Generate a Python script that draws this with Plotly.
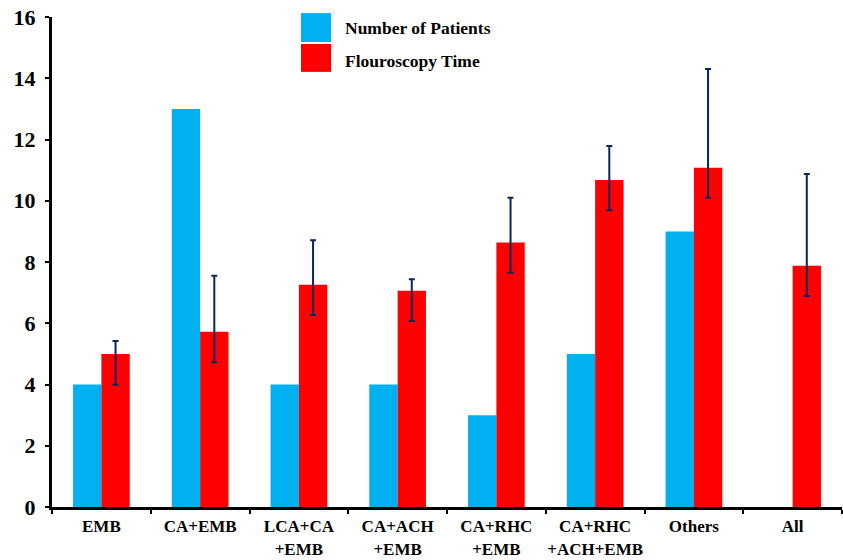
import plotly.graph_objects as go

categories = ["EMB", "CA+EMB", "LCA+CA<br>+EMB", "CA+ACH<br>+EMB", "CA+RHC<br>+EMB",
              "CA+RHC<br>+ACH+EMB", "Others", "All"]
patients = [4, 13, 4, 4, 3, 5, 9, None]
fluoro = [5.0, 5.72, 7.26, 7.06, 8.64, 10.68, 11.08, 7.88]
err_plus = [0.42, 1.83, 1.45, 0.38, 1.46, 1.11, 3.22, 2.99]
err_minus = [1.01, 0.99, 0.99, 0.99, 0.99, 0.99, 0.98, 0.99]
y_ticks = [0, 2, 4, 6, 8, 10, 12, 14, 16]
legend_names = ["Number of Patients", "Flouroscopy Time"]
colors = ["#00B0F0", "#FF0000"]

FONT = "Liberation Serif"

fig = go.Figure()
fig.add_trace(go.Bar(x=categories, y=patients, name=legend_names[0],
                     marker=dict(color=colors[0], line=dict(width=0))))
fig.add_trace(go.Bar(x=categories, y=fluoro, name=legend_names[1],
                     marker=dict(color=colors[1], line=dict(width=0)),
                     error_y=dict(type="data", symmetric=False, array=err_plus,
                                  arrayminus=err_minus, color="#0B2560",
                                  thickness=2, width=3)))

# custom legend with large swatches
sw_x0, sw_x1 = 0.3152, 0.3532
fig.add_shape(type="rect", xref="paper", yref="paper", x0=sw_x0, x1=sw_x1,
              y0=0.949, y1=1.008, fillcolor=colors[0], line=dict(width=0))
fig.add_shape(type="rect", xref="paper", yref="paper", x0=sw_x0, x1=sw_x1,
              y0=0.888, y1=0.945, fillcolor=colors[1], line=dict(width=0))
for name, yy in zip(legend_names, [0.9776, 0.910]):
    fig.add_annotation(xref="paper", yref="paper", x=0.3684, y=yy, text=name,
                       showarrow=False, xanchor="left", yanchor="middle",
                       font=dict(family=FONT, size=17.5, color="black", weight="bold"))

fig.update_layout(
    width=843, height=560,
    margin=dict(l=52, r=1, t=17, b=53, autoexpand=False),
    paper_bgcolor="white", plot_bgcolor="white",
    barmode="group", bargap=0.426, bargroupgap=0,
    showlegend=False,
    font=dict(family=FONT, color="black", weight="bold"),
)
fig.update_xaxes(
    type="category", showline=True, linewidth=3, linecolor="black",
    ticks="outside", tickson="boundaries", ticklen=4, tickwidth=2, tickcolor="black",
    showgrid=False, zeroline=False, tickangle=0, automargin=False,
    tickfont=dict(family=FONT, size=17, color="black", weight="bold"),
    ticklabelstandoff=2,
)
fig.update_yaxes(
    range=[0, 16], tickvals=y_ticks, showline=True, linewidth=3, linecolor="black",
    ticks="outside", ticklen=4, tickwidth=2, tickcolor="black",
    showgrid=False, zeroline=False, automargin=False,
    tickfont=dict(family=FONT, size=22, color="black", weight="bold"),
    ticklabelstandoff=5,
)

fig.write_html("out.html", config={"displayModeBar": False},
               post_script="document.body.style.margin='0';")
